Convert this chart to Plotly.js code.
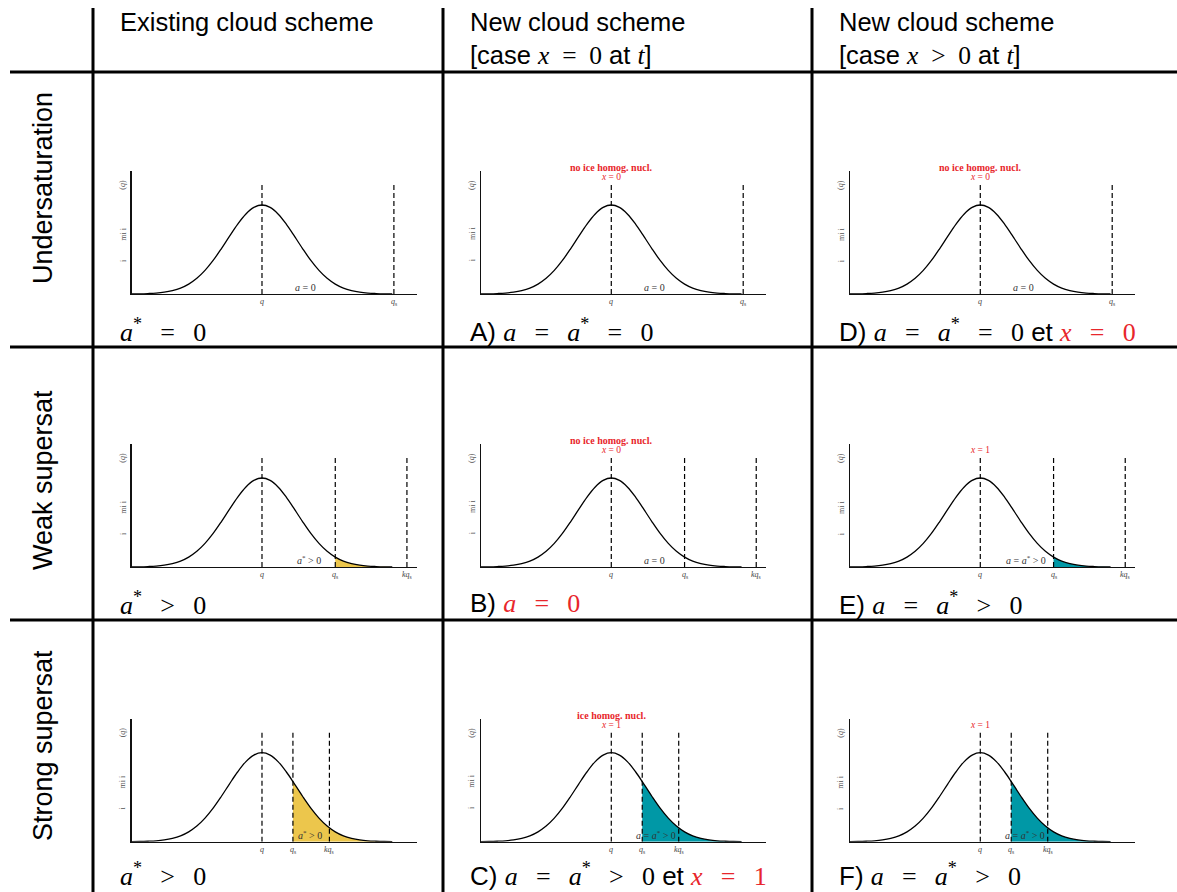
<!DOCTYPE html>
<html><head><meta charset="utf-8">
<script src="https://cdn.plot.ly/plotly-3.0.1.min.js"></script>
<style>html,body{margin:0;padding:0;background:#fff}</style>
</head><body><div id="chart" style="width:1177px;height:892px"></div>
<script>
// ---------------- data ----------------
const SP = "\u2002\u2009"; // wide math spacing around relations
const S = t => '<span style="font-family:Liberation Serif">' + t + '</span>';
const R = t => '<span style="font-family:Liberation Serif;fill:#e8262b">' + t + '</span>';

const colHeadLine1 = ["Existing cloud scheme", "New cloud scheme", "New cloud scheme"];
const colHeadLine2 = ["", "[case " + S("<i>x</i>\u2002=\u20020") + " at " + S("<i>t</i>") + "]",
                          "[case " + S("<i>x</i>\u2002&gt;\u20020") + " at " + S("<i>t</i>") + "]"];
const rowLabels = ["Undersaturation", "Weak supersat", "Strong supersat"];

// PDF curve (x in units of curve width, peak at q)
const qGrid = [-4,-3.75,-3.5,-3.25,-3,-2.75,-2.5,-2.25,-2,-1.75,-1.5,-1.25,-1,-0.75,-0.5,-0.25,0,
               0.25,0.5,0.75,0.95,1,1.25,1.5,1.75,2,2.25,2.5,2.75,3,3.25,3.5,3.75,4];
const pdfVals = [0.001,0.002,0.005,0.010,0.020,0.038,0.066,0.111,0.176,0.265,0.377,0.508,0.648,0.783,0.897,0.973,1,
                 0.973,0.897,0.783,0.676,0.648,0.508,0.377,0.265,0.176,0.111,0.066,0.038,0.020,0.010,0.005,0.002,0.001];

// positions of q_s and k q_s per row (same units)
const rowQs  = [4.05, 2.25, 0.95];
const rowKqs = [null, 4.45, 2.07];

// shading per panel: null / "gold" / "teal"
const panelFill = [[null, null, null], ["gold", null, "teal"], ["gold", "teal", "teal"]];

const areaLabels = [
  ["<i>a</i> = 0", "<i>a</i> = 0", "<i>a</i> = 0"],
  ["<i>a</i><sup>*</sup> &gt; 0", "<i>a</i> = 0", "<i>a</i> = <i>a</i><sup>*</sup> &gt; 0"],
  ["<i>a</i><sup>*</sup> &gt; 0", "<i>a</i> = <i>a</i><sup>*</sup> &gt; 0", "<i>a</i> = <i>a</i><sup>*</sup> &gt; 0"]
];
const redTop = [[null, "no ice homog. nucl.", "no ice homog. nucl."], [null, "no ice homog. nucl.", null], [null, "ice homog. nucl.", null]];
const redX   = [[null, "<i>x</i> = 0", "<i>x</i> = 0"], [null, "<i>x</i> = 0", "<i>x</i> = 1"], [null, "<i>x</i> = 1", "<i>x</i> = 1"]];
const M = (...p) => p.join(SP);
const bottomLabels = [
  [S(M("<i>a</i><sup>*</sup>", "=", "0")), "A) " + S(M("<i>a</i>", "=", "<i>a</i><sup>*</sup>", "=", "0")),
   "D) " + S(M("<i>a</i>", "=", "<i>a</i><sup>*</sup>", "=", "0")) + " et " + R(M("<i>x</i>", "=", "0"))],
  [S(M("<i>a</i><sup>*</sup>", "&gt;", "0")), "B) " + R(M("<i>a</i>", "=", "0")),
   "E) " + S(M("<i>a</i>", "=", "<i>a</i><sup>*</sup>", "&gt;", "0"))],
  [S(M("<i>a</i><sup>*</sup>", "&gt;", "0")), "C) " + S(M("<i>a</i>", "=", "<i>a</i><sup>*</sup>", "&gt;", "0")) + " et " + R(M("<i>x</i>", "=", "1")),
   "F) " + S(M("<i>a</i>", "=", "<i>a</i><sup>*</sup>", "&gt;", "0"))]
];
const yLabelBits = ["(<i>q</i>)", "mi i", "i"];

// ---------------- layout geometry ----------------
const W = 1177, H = 892;
const SANS = "Liberation Sans, Arial, sans-serif";
const SERIF = "Liberation Serif, DejaVu Serif, serif";
const RED = "#e8262b";
const fills = {gold: "#ecc64c", teal: "#0098a6"};
const colAxisX = [131.7, 481, 850];
const colTextX = [118, 468, 837];
const rowBaseY = [294, 567, 841.7];
const bottomLabelY = [330, 603, 874];
const plotW = 285, plotH = 123;
const xRange = [-4, 4.75], yRange = [0, 1.382];
const dashTop = 1.225;
const px = v => v / W, py = v => 1 - v / H;

const traces = [], shapes = [], annotations = [];
const layout = {
  width: W, height: H, margin: {l: 0, r: 0, t: 0, b: 0},
  paper_bgcolor: "#fff", plot_bgcolor: "rgba(0,0,0,0)", showlegend: false,
  font: {family: SANS, color: "#000"}
};

const areaPos = [
  [{x: 1.33, a: "center"}, {x: 1.33, a: "center"}, {x: 1.33, a: "center"}],
  [{x: 1.86, a: "right"}, {x: 1.33, a: "center"}, {x: 2.08, a: "right"}],
  [{x: 1.03, a: "left"}, {x: 1.38, a: "center"}, {x: 1.36, a: "center"}]
];

for (let r = 0; r < 3; r++) {
  for (let c = 0; c < 3; c++) {
    const k = r * 3 + c + 1;
    const xa = k === 1 ? "x" : "x" + k, ya = k === 1 ? "y" : "y" + k;
    const xk = k === 1 ? "xaxis" : "xaxis" + k, yk = k === 1 ? "yaxis" : "yaxis" + k;
    layout[xk] = {domain: [px(colAxisX[c]), px(colAxisX[c] + plotW)], range: xRange, anchor: ya,
      showline: true, linecolor: "#111", linewidth: 1.4, showgrid: false, zeroline: false,
      showticklabels: false, ticks: "", fixedrange: true};
    layout[yk] = {domain: [py(rowBaseY[r]), py(rowBaseY[r] - plotH)], range: yRange, anchor: xa,
      showline: true, linecolor: "#111", linewidth: 1.4, showgrid: false, zeroline: false,
      showticklabels: false, ticks: "", fixedrange: true};

    const qs = rowQs[r], kqs = rowKqs[r];
    if (panelFill[r][c]) {
      const fx = [], fy = [];
      qGrid.forEach((v, i) => { if (v >= qs) { fx.push(v); fy.push(pdfVals[i]); } });
      traces.push({x: fx, y: fy, xaxis: xa, yaxis: ya, type: "scatter", mode: "lines",
        line: {width: 0, shape: "spline"}, fill: "tozeroy", fillcolor: fills[panelFill[r][c]], hoverinfo: "skip"});
    }
    traces.push({x: qGrid, y: pdfVals, xaxis: xa, yaxis: ya, type: "scatter", mode: "lines",
      line: {color: "#000", width: 1.3, shape: "spline"}, hoverinfo: "skip"});

    const marks = [[0, "<i>q</i>"], [qs, "<i>q</i><sub>s</sub>"]];
    if (kqs !== null) marks.push([kqs, "<i>kq</i><sub>s</sub>"]);
    marks.forEach(([xv, lab]) => {
      shapes.push({type: "line", xref: xa, yref: ya, x0: xv, x1: xv, y0: 0, y1: dashTop,
        line: {color: "#000", width: 1.2, dash: "5px,3px"}});
      annotations.push({xref: xa, yref: ya, x: xv, y: 0, xanchor: "center", yanchor: "top", yshift: -1, showarrow: false,
        text: lab, font: {family: SERIF, size: 8, color: "#444"}});
    });

    // y-axis label bits
    [[1.225, yLabelBits[0]], [0.674, yLabelBits[1]], [0.38, yLabelBits[2]]].forEach(([yv, t]) => {
      annotations.push({xref: xa, yref: ya, x: xRange[0], y: yv, xshift: -9, xanchor: "center", yanchor: "middle",
        showarrow: false, textangle: -90, text: t, font: {family: SERIF, size: 8, color: "#555"}});
    });

    // area label
    const ap = areaPos[r][c];
    annotations.push({xref: xa, yref: ya, x: ap.x, y: 0.075, xanchor: ap.a, yanchor: "middle", showarrow: false,
      text: areaLabels[r][c], font: {family: SERIF, size: 10, color: "#333"}});

    // red labels (anchored inside the axis range, shifted up)
    if (redTop[r][c]) annotations.push({xref: xa, yref: ya, x: 0, y: 1.315, yshift: 9, xanchor: "center", yanchor: "middle",
      showarrow: false, text: "<b>" + redTop[r][c] + "</b>", font: {family: SERIF, size: 10, color: RED}});
    if (redX[r][c]) annotations.push({xref: xa, yref: ya, x: 0, y: 1.315, xanchor: "center", yanchor: "middle",
      showarrow: false, text: redX[r][c], font: {family: SERIF, size: 9.5, color: RED}});

    // bottom cell label
    annotations.push({xref: "paper", yref: "paper", x: px(colTextX[c]), y: py(bottomLabelY[r]), xanchor: "left", yanchor: "middle",
      showarrow: false, text: bottomLabels[r][c], font: {family: SANS, size: 26, color: "#000"}});
  }
}

// headers
for (let c = 0; c < 3; c++) {
  annotations.push({xref: "paper", yref: "paper", x: px(colTextX[c]), y: py(22), xanchor: "left", yanchor: "middle",
    showarrow: false, text: colHeadLine1[c], font: {family: SANS, size: 25.5}});
  if (colHeadLine2[c]) annotations.push({xref: "paper", yref: "paper", x: px(colTextX[c]), y: py(55), xanchor: "left", yanchor: "middle",
    showarrow: false, text: colHeadLine2[c], font: {family: SANS, size: 25.5}});
}
// row labels
const rowLabelY = [188, 480, 746];
rowLabels.forEach((t, r) => annotations.push({xref: "paper", yref: "paper", x: px(43), y: py(rowLabelY[r]),
  xanchor: "center", yanchor: "middle", showarrow: false, textangle: -90, text: t, font: {family: SANS, size: 27}}));

// table rules
[72, 347, 620].forEach(yv => shapes.push({type: "line", xref: "paper", yref: "paper", x0: px(10), x1: 1, y0: py(yv), y1: py(yv),
  line: {color: "#000", width: 3}}));
[93, 443, 812].forEach(xv => shapes.push({type: "line", xref: "paper", yref: "paper", x0: px(xv), x1: px(xv), y0: py(8), y1: 0,
  line: {color: "#000", width: 3}}));

layout.shapes = shapes;
layout.annotations = annotations;
Plotly.newPlot("chart", traces, layout, {staticPlot: true, displayModeBar: false});
</script></body></html>
